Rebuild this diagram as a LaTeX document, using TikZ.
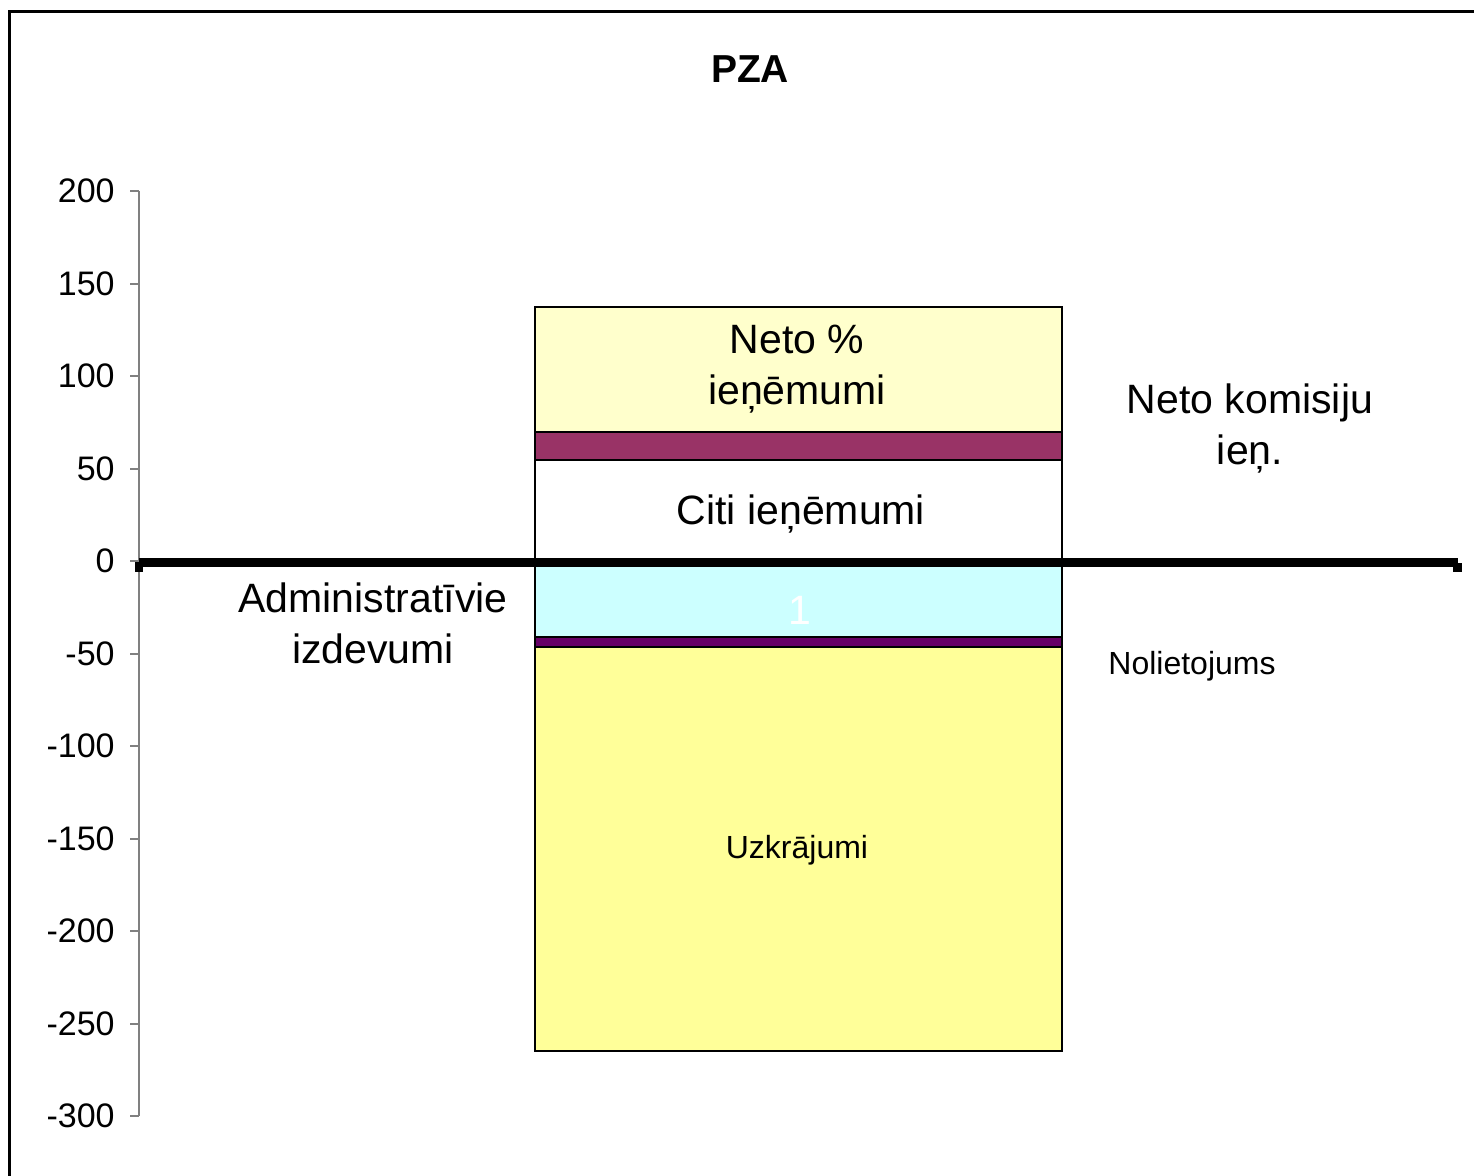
\documentclass[tikz,border=0pt]{standalone}
\usepackage{fontspec}
\setmainfont{Liberation Sans}
\definecolor{netoyel}{HTML}{FFFFCC}
\definecolor{maroon}{HTML}{993366}
\definecolor{cyanl}{HTML}{CCFFFF}
\definecolor{purp}{HTML}{660066}
\definecolor{yel}{HTML}{FFFF99}
\definecolor{axgray}{HTML}{808080}
\tikzset{
  seg/.style={draw=black, line width=1pt},
  ticklbl/.style={anchor=east, inner sep=0pt, font=\fontsize{17}{20}\selectfont},
  biglbl/.style={inner sep=0pt, align=center, font=\fontsize{20.5}{25.5}\selectfont},
  smalllbl/.style={inner sep=0pt, font=\fontsize{16}{19}\selectfont},
  tickline/.style={draw=axgray, line width=0.75pt}
}
\begin{document}
\begin{tikzpicture}[x=0.5pt,y=-0.5pt]
\useasboundingbox (0,0) rectangle (1474,1176);
\begin{scope}
\clip (0,0) rectangle (1474,1176);
\draw[line width=1.5pt] (9.5,11.5) rectangle (1490,1190);
\end{scope}
% title
\node[inner sep=0pt, font=\bfseries\fontsize{19.5}{23}\selectfont] (title) at (750,69) {PZA};
% y axis
\draw[tickline] (139,191) -- (139,1116);
\foreach \v/\y in {200/191,150/284,100/376,50/469,0/561,-50/654,-100/746,-150/839,-200/931,-250/1024,-300/1116}{
  \draw[tickline] (130,\y) -- (139,\y);
  \node[ticklbl] (t\v) at (115,\y) {\v};
}
% bar segments
\fill[netoyel] (535,307) rectangle (1062,432);
\draw[seg] (535,307) rectangle (1062,432);
\fill[maroon] (535,432) rectangle (1062,460);
\draw[seg] (535,432) rectangle (1062,460);
\fill[white] (535,460) rectangle (1062,561);
\draw[seg] (535,460) rectangle (1062,561);
\fill[cyanl] (535,561) rectangle (1062,637);
\draw[seg] (535,561) rectangle (1062,637);
\fill[purp] (535,637) rectangle (1062,647);
\draw[seg] (535,637) rectangle (1062,647);
\fill[yel] (535,647) rectangle (1062,1051);
\draw[seg] (535,647) rectangle (1062,1051);
% zero line
\draw[line width=4.5pt] (139,562.5) -- (1458,562.5);
\fill (135,562) rectangle (143,572);
\fill (1453,563) rectangle (1462,572);
% labels
\node[biglbl] (neto) at (797,369) {Neto \%\\ieņēmumi};
\node[biglbl] (kom) at (1250,428) {Neto komisiju\\ieņ.};
\node[biglbl] (citi) at (801,514) {Citi ieņēmumi};
\node[biglbl, text=white] (one) at (800,610) {1};
\node[biglbl] (adm) at (373,623) {Administratīvie\\izdevumi};
\node[smalllbl] (nol) at (1192,666) {Nolietojums};
\node[smalllbl] (uzk) at (797,850) {Uzkrājumi};
\end{tikzpicture}
\end{document}
